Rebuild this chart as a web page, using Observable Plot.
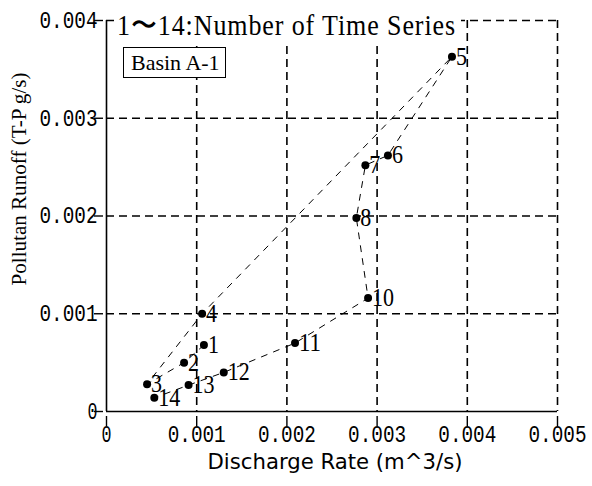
<!DOCTYPE html>
<html>
<head>
<meta charset="utf-8">
<script src="https://cdn.jsdelivr.net/npm/d3@7"></script>
<script src="https://cdn.jsdelivr.net/npm/@observablehq/plot@0.6"></script>
<style>
  html, body { margin: 0; padding: 0; background: #fff; }
  #wrap { position: relative; width: 592px; height: 486px; overflow: hidden; }
  #title { position: absolute; left: 114px; top: 9px; background: #fff; padding: 0 5px 1px 3px;
           font-family: "Liberation Serif", serif; font-size: 26px; letter-spacing: 0.9px; color: #000;
           line-height: 30px; white-space: nowrap; transform: scale(1, 1.12); transform-origin: left top; }
  #basin { position: absolute; left: 123px; top: 47px; background: #fff; border: 1.5px solid #000;
           padding: 0 5px 0 7px; font-family: "Liberation Serif", serif; font-size: 22px;
           line-height: 29px; color: #000; white-space: nowrap; }
  g.ticklbl text { font-size: 23px; font-family: "Liberation Mono", monospace; }
</style>
</head>
<body>
<div id="wrap">
  <div id="chart"></div>
  <div id="title">1〜14:Number of Time Series</div>
  <div id="basin">Basin A-1</div>
</div>
<script>
// Time-series numbers (no point 9 is visible in the reference)
const seriesIds = [1, 2, 3, 4, 5, 6, 7, 8, 10, 11, 12, 13, 14];
// Discharge rate (m^3/s)
const discharge = [0.00108, 0.00086, 0.00045, 0.00106, 0.00383, 0.00312, 0.00287, 0.00277, 0.0029, 0.00209, 0.0013, 0.00091, 0.00053];
// Pollutant runoff (T-P g/s)
const runoff = [0.00068, 0.0005, 0.00028, 0.001, 0.00363, 0.00262, 0.00252, 0.00198, 0.00116, 0.0007, 0.0004, 0.00027, 0.00014];

const xTicks = [0, 0.001, 0.002, 0.003, 0.004, 0.005];
const yTicks = [0, 0.001, 0.002, 0.003, 0.004];
const xLabel = "Discharge Rate (m^3/s)";
const yLabel = "Pollutan Runoff (T-P g/s)";

const data = seriesIds.map((id, i) => ({id, x: discharge[i], y: runoff[i]}));
const fmt = d => d === 0 ? "0" : d.toFixed(3);
const monoFont = "'Liberation Mono', monospace";

const chart = Plot.plot({
  width: 592,
  height: 486,
  marginLeft: 106,
  marginRight: 35,
  marginTop: 20,
  marginBottom: 75,
  style: {background: "white", color: "black"},
  x: {domain: [0, 0.005], ticks: xTicks, tickFormat: fmt},
  y: {domain: [0, 0.004], ticks: yTicks, tickFormat: fmt},
  marks: [
    Plot.gridX(xTicks.slice(1), {stroke: "black", strokeOpacity: 1, strokeWidth: 1.6, strokeDasharray: "8,5"}),
    Plot.gridY(yTicks.slice(1), {stroke: "black", strokeOpacity: 1, strokeWidth: 1.6, strokeDasharray: "8,5"}),
    Plot.ruleX([0], {stroke: "black", strokeWidth: 1.6}),
    Plot.ruleY([0], {stroke: "black", strokeWidth: 1.6}),
    Plot.axisX(xTicks, {anchor: "bottom", tickSize: 10, insetBottom: -5, label: null, text: null, strokeWidth: 1.4}),
    Plot.axisX(xTicks, {anchor: "bottom", tickSize: 5, tickPadding: 9, label: null, tickFormat: fmt,
      fontFamily: monoFont, fontSize: 23, stroke: null, strokeWidth: 0, className: "ticklbl"}),
    Plot.axisY(yTicks, {anchor: "left", tickSize: 9, insetLeft: -3, label: null, text: null, strokeWidth: 1.4}),
    Plot.axisY(yTicks, {anchor: "left", tickSize: 6, tickPadding: 3, label: null, tickFormat: fmt,
      fontFamily: monoFont, fontSize: 23, stroke: null, strokeWidth: 0, className: "ticklbl"}),
    Plot.line(data, {x: "x", y: "y", stroke: "black", strokeWidth: 1, strokeDasharray: "6,7"}),
    Plot.dot(data, {x: "x", y: "y", r: 4, fill: "black", stroke: null}),
    Plot.text(data, {x: "x", y: "y", text: d => String(d.id), textAnchor: "start", dx: 4,
      fontFamily: "'Liberation Serif', serif", fontSize: 25, fill: "black", className: "ptlabel"}),
    Plot.text([xLabel], {frameAnchor: "bottom", dx: 3, dy: 57, fontFamily: "'DejaVu Sans', sans-serif",
      fontSize: 21, fill: "black", className: "xtitle"}),
    Plot.text([yLabel], {frameAnchor: "left", textAnchor: "middle", dx: -87, dy: -37, rotate: -90,
      fontFamily: "'Liberation Serif', serif", fontSize: 21, fill: "black", className: "ytitle"})
  ]
});
document.getElementById("chart").appendChild(chart);

// Narrow, tall glyphs like the original's Japanese fonts: fit each text to its measured width
const fit = (sel, widthOf) => sel.each(function() {
  this.setAttribute("textLength", widthOf(this.textContent));
  this.setAttribute("lengthAdjust", "spacingAndGlyphs");
});
const svg = d3.select(chart);
const tickTexts = svg.selectAll("g.ticklbl text, [aria-label='x-axis tick label'] text, [aria-label='y-axis tick label'] text");
tickTexts.style("font-size", "23px").style("font-family", "'Liberation Mono', monospace");
fit(tickTexts, t => 12 * t.length - 2);
fit(svg.selectAll("g.xtitle text"), () => 255);
fit(svg.selectAll("g.ytitle text"), () => 213);
fit(svg.selectAll("g.ptlabel text"), t => 11 * t.length);
</script>
</body>
</html>
